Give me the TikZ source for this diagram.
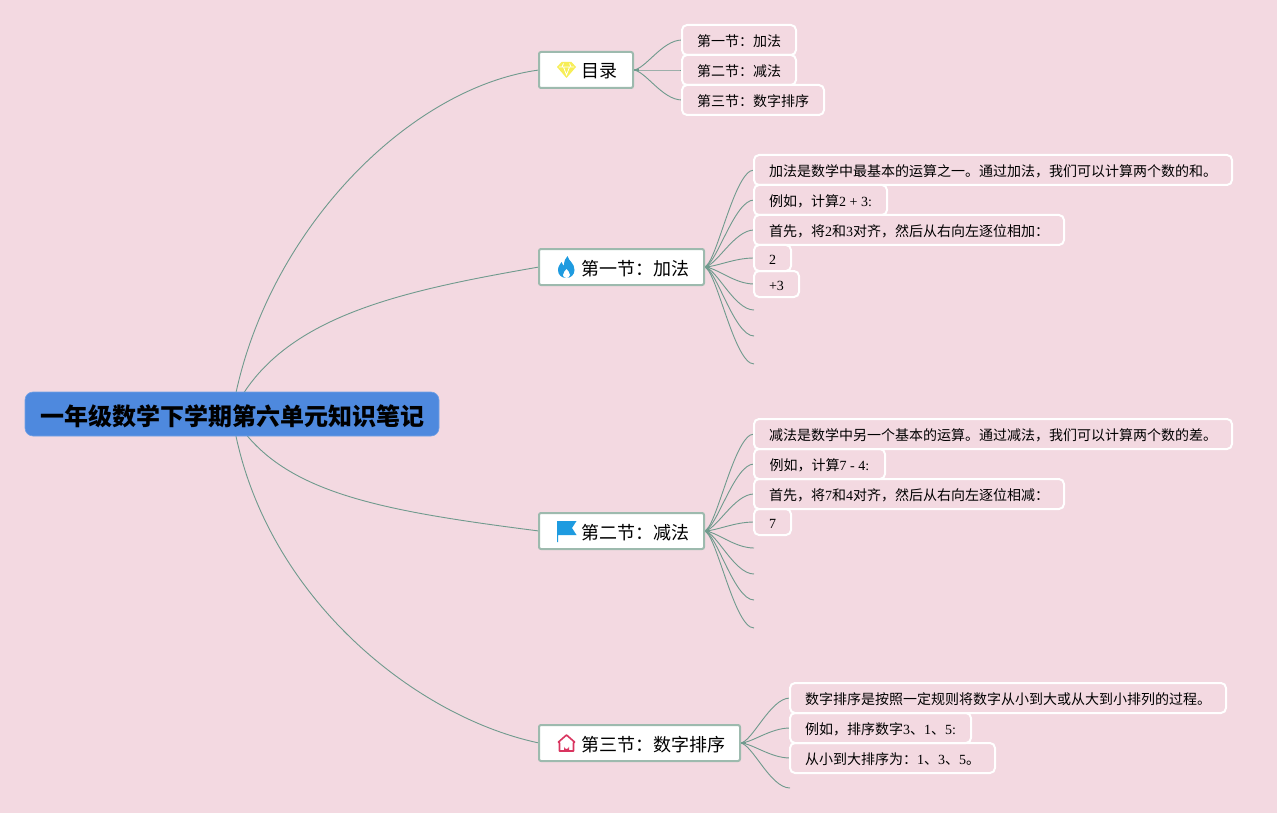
\documentclass[tikz,border=0pt]{standalone}
\usepackage{fontspec}
\setmainfont{Liberation Serif}
\newfontfamily\cjk{Noto Sans CJK SC}
\newfontfamily\latf{Liberation Serif}
\newcommand{\lat}[1]{{\latf #1}}
\usetikzlibrary{calc}
\pgfdeclarelayer{pagebg}
\pgfdeclarelayer{links}
\pgfsetlayers{pagebg,links,main}
\definecolor{bgpink}{HTML}{F3D9E1}
\definecolor{rootblue}{HTML}{4E89DE}
\definecolor{topicedge}{HTML}{9DBAAE}
\definecolor{linkgreen}{HTML}{6F9A8D}
\definecolor{gemyellow}{HTML}{F7EE57}
\definecolor{iconblue}{HTML}{1E9BE0}
\definecolor{homered}{HTML}{D9345F}
\tikzset{
  x=1pt,y=-1pt,
  rootnode/.style={fill=rootblue,draw=rootblue!80!white,line width=.6pt,rounded corners=8pt,inner sep=0pt,outer sep=0pt,minimum width=414pt,minimum height=44pt,text height=22pt,text depth=0pt,font=\cjk\bfseries\fontsize{24pt}{28pt}\selectfont,text=black},
  topic/.style={fill=white,draw=topicedge,line width=2pt,rounded corners=2pt,inner sep=0pt,outer sep=0pt,minimum height=36pt,text height=16.5pt,text depth=.5pt,anchor=west,font=\cjk\fontsize{18pt}{22pt}\selectfont,text=black},
  leaf/.style={draw=white,line width=2pt,rounded corners=5pt,inner sep=0pt,outer sep=0pt,text height=13.3pt,text depth=.7pt,anchor=north west,font=\cjk\fontsize{14pt}{17pt}\selectfont,text=black},
  link/.style={draw=linkgreen,line width=.9pt},
  stub/.style={draw=linkgreen,line width=2.2pt},
}
\newcommand{\curve}[2]{\draw[link] (#1.east) .. controls +(12,0) and +(-20,0) .. (#2);}
\begin{document}
\begin{tikzpicture}
\useasboundingbox (0,0) rectangle (1277,813);
\begin{pgfonlayer}{pagebg}
\fill[bgpink] (0,0) rectangle (1277,813);
\end{pgfonlayer}
\node[rootnode] (root) at (232,414) {\hspace*{1pt}一年级数学下学期第六单元知识笔记};
\node[topic,minimum width=94pt] (t0) at (539,70) {\hspace*{27pt}目录};
\node[topic,minimum width=165pt] (t1) at (539,267) {\hspace*{27pt}第一节：加法};
\node[topic,minimum width=165pt] (t2) at (539,531) {\hspace*{27pt}第二节：减法};
\node[topic,minimum width=201pt] (t3) at (539,743) {\hspace*{27pt}第三节：数字排序};
% leaves: contents
\node[leaf,minimum width=114pt,minimum height=30pt] (a1) at (682,25) {第一节：加法};
\node[leaf,minimum width=114pt,minimum height=30pt] (a2) at (682,55) {第二节：减法};
\node[leaf,minimum width=142pt,minimum height=30pt] (a3) at (682,85) {第三节：数字排序};
% section 1
\node[leaf,minimum width=478pt,minimum height=30pt] (b1) at (754,155) {加法是数学中最基本的运算之一。通过加法，我们可以计算两个数的和。};
\node[leaf,minimum width=133pt,minimum height=30pt] (b2) at (754,185) {例如，计算\lat{2 + 3:}};
\node[leaf,minimum width=310pt,minimum height=30pt] (b3) at (754,215) {首先，将\lat{2}和\lat{3}对齐，然后从右向左逐位相加：};
\node[leaf,minimum width=37pt,minimum height=26pt] (b4) at (754,245) {\lat{2}};
\node[leaf,minimum width=45pt,minimum height=26pt] (b5) at (754,271) {\lat{+3}};
\coordinate (b6) at (754,310);
\coordinate (b7) at (754,336);
\coordinate (b8) at (754,364);
% section 2
\node[leaf,minimum width=478pt,minimum height=30pt] (c1) at (754,419) {减法是数学中另一个基本的运算。通过减法，我们可以计算两个数的差。};
\node[leaf,minimum width=131pt,minimum height=30pt] (c2) at (754,449) {例如，计算\lat{7 - 4:}};
\node[leaf,minimum width=310pt,minimum height=30pt] (c3) at (754,479) {首先，将\lat{7}和\lat{4}对齐，然后从右向左逐位相减：};
\node[leaf,minimum width=37pt,minimum height=26pt] (c4) at (754,509) {\lat{7}};
\coordinate (c5) at (754,548);
\coordinate (c6) at (754,574);
\coordinate (c7) at (754,600);
\coordinate (c8) at (754,628);
% section 3
\node[leaf,minimum width=436pt,minimum height=30pt] (d1) at (790,683) {数字排序是按照一定规则将数字从小到大或从大到小排列的过程。};
\node[leaf,minimum width=181pt,minimum height=30pt] (d2) at (790,713) {例如，排序数字\lat{3}、\lat{1}、\lat{5:}};
\node[leaf,minimum width=205pt,minimum height=30pt] (d3) at (790,743) {从小到大排序为：\lat{1}、\lat{3}、\lat{5}。};
\coordinate (d4) at (790,788);
% icons
\coordinate (i0) at ($(t0.west)+(27.5,0)$);
\coordinate (i1) at ($(t1.west)+(27.5,0)$);
\coordinate (i2) at ($(t2.west)+(27.5,0)$);
\coordinate (i3) at ($(t3.west)+(27.5,0)$);
\begin{scope}[shift={(i0)}]
 \fill[gemyellow] (-5,-8) -- (5,-8) -- (9.5,-3) -- (0,8) -- (-9.5,-3) -- cycle;
 \draw[white,line width=.8pt] (-7.5,-3) -- (7.5,-3) (-3,-3) -- (0,5) -- (3,-3) (-3,-6.5) -- (-4.5,-3) (3,-6.5) -- (4.5,-3);
\end{scope}
\begin{scope}[shift={(i1)}]
 \fill[iconblue] (1,-11) .. controls (2,-6) and (8,-4) .. (8,3) .. controls (8,8) and (4,11) .. (0,11) .. controls (-5,11) and (-8.5,8) .. (-8.5,3) .. controls (-8.5,-1) and (-6,-3) .. (-5,-5) .. controls (-4,-3) and (-3.5,-2) .. (-2.5,-1.5) .. controls (-2.5,-6) and (-1,-9) .. (1,-11) -- cycle;
 \fill[white] (0,2) .. controls (1,4) and (3.5,5) .. (3.5,8) .. controls (3,10.5) and (1,11) .. (0,11) .. controls (-2,11) and (-3.5,9.5) .. (-3.5,8) .. controls (-3.5,5) and (-1,4) .. (0,2) -- cycle;
\end{scope}
\begin{scope}[shift={(i2)}]
 \fill[iconblue] (-9,-10) -- (10,-10) -- (5.5,-3) -- (10,4) -- (-8.5,4) -- (-8.5,11) -- (-9.5,11) -- (-9.5,-10) -- cycle;
\end{scope}
\begin{scope}[shift={(i3)}]
 \draw[homered,line width=1.6pt,line join=round] (-8,-1) -- (0,-8) -- (8,-1) -- (7,0) -- (7,8) -- (-7,8) -- (-7,0) -- cycle;
 \fill[homered] (-2.5,8) -- (-2.5,3.5) arc[start angle=180,end angle=0,radius=2.5] -- (2.5,8) -- cycle;
\end{scope}
% connectors
\begin{pgfonlayer}{links}
\draw[link] (root.center) .. controls +(28,-175) and +(-134,18) .. (t0.west);
\draw[link] (root.center) .. controls +(45,-96) and +(-144,25) .. (t1.west);
\draw[link] (root.center) .. controls +(45,78) and +(-164,-21) .. (t2.west);
\draw[link] (root.center) .. controls +(26,176) and +(-128,-27) .. (t3.west);
\foreach \t in {t0,t1,t2,t3}{\draw[stub] (\t.east) -- ++(6,0);}
\foreach \l in {a1.west,a2.west,a3.west}{\curve{t0}{\l}}
\foreach \l in {b1.west,b2.west,b3.west,b4.west,b5.west,b6,b7,b8}{\curve{t1}{\l}}
\foreach \l in {c1.west,c2.west,c3.west,c4.west,c5,c6,c7,c8}{\curve{t2}{\l}}
\foreach \l in {d1.west,d2.west,d3.west,d4}{\curve{t3}{\l}}
\end{pgfonlayer}
\end{tikzpicture}
\end{document}
